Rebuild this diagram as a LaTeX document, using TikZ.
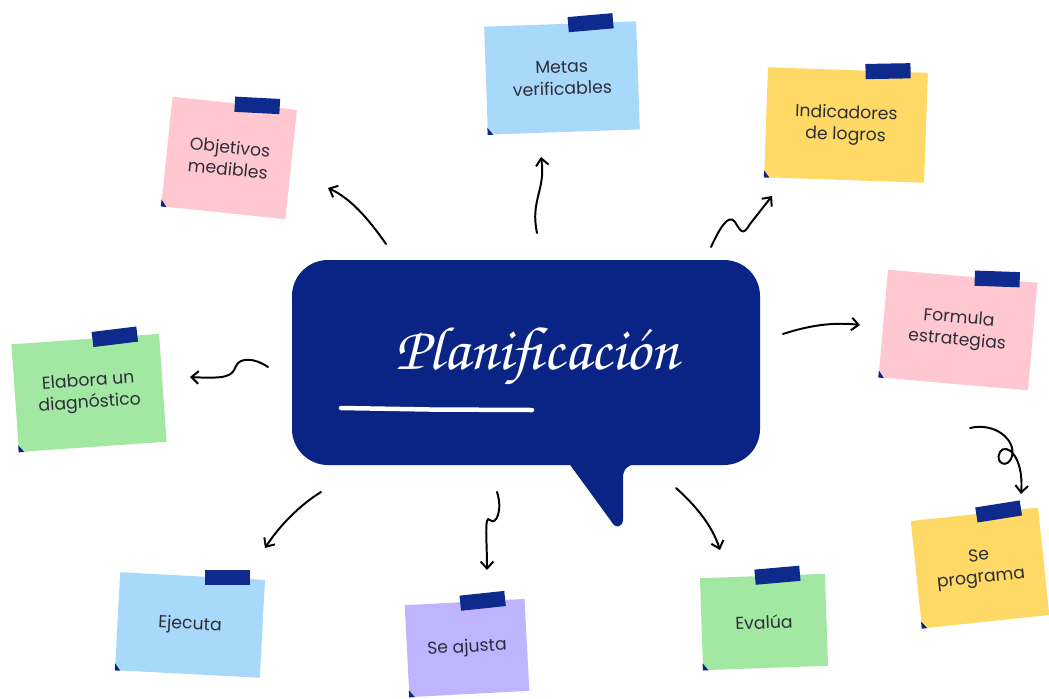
\documentclass[tikz,border=0pt]{standalone}
\usepackage[T1,TU]{fontenc}
\usepackage{fontspec}
\setmainfont{Poppins}
\usetikzlibrary{arrows.meta,calc}
\definecolor{navy}{HTML}{0A2486}
\definecolor{tapec}{HTML}{0D2A8C}
\definecolor{notepink}{HTML}{FFC8D0}
\definecolor{noteblue}{HTML}{A8D8FA}
\definecolor{noteyellow}{HTML}{FFD966}
\definecolor{notegreen}{HTML}{A2E8A2}
\definecolor{notepurple}{HTML}{BEB4FF}
\definecolor{textgray}{HTML}{2E2E3A}
\tikzset{
  note/.style={fill=#1, inner sep=2pt, align=center, text=textgray,
    font=\fontsize{12.3}{15.5}\selectfont},
  tape/.style={fill=tapec, minimum width=1.125cm, minimum height=0.38cm, inner sep=0pt},
  curl/.style={fill=navy},
  conn/.style={draw=black, line width=1.4pt, line cap=round,
    -{Straight Barb[length=5pt,width=9pt,line width=1.4pt]}},
}
\newcommand\stickynote[9]{%
  \node[note=#7, minimum width=#4*0.025cm, minimum height=#5*0.025cm, rotate=#6] (#1) at (#2,#3) {#8};
  \node[tape, rotate=#6+3] (#1tape) at ($(#1.north west)!#9!(#1.north east)$) {};
  \fill[curl] (#1.south west) -- ($(#1.south west)!5pt!(#1.north west)$) -- ($(#1.south west)!4pt!(#1.south east)$) -- cycle;
}
\begin{document}
\begin{tikzpicture}[x=0.025cm, y=-0.025cm]
\useasboundingbox[fill=white] (0,0) rectangle (1049,698);

% central bubble
\node[fill=navy, rounded corners=0.9cm, minimum width=468*0.025cm, minimum height=205*0.025cm, inner sep=0pt] (bub) at (526,362.5) {};
\fill[navy] (568,462) -- (611,521) .. controls (615,529) and (623,528) .. (623,519) -- (623,478) .. controls (623,468) and (628,465) .. (642,462) -- cycle;
\node[text=white, inner sep=0pt] (title) at (537,357) {\resizebox{7.07cm}{!}{\usefont{T1}{pzc}{mb}{it}Planificaci\'on}};
\draw[white, line width=3.2pt, line cap=round] (341,408) -- (430,409.5) -- (532,410);

% notes
\stickynote{obj}{229}{158}{125}{110}{-6}{notepink}{Objetivos\\medibles}{0.68}
\stickynote{metas}{562}{78}{152}{108}{2}{noteblue}{Metas\\verificables}{0.7}
\stickynote{ind}{846}{125}{160}{110}{-2}{noteyellow}{Indicadores\\de logros}{0.75}
\stickynote{form}{958}{330}{150}{108}{-5}{notepink}{Formula\\estrategias}{0.73}
\stickynote{prog}{980}{568}{128}{108}{6}{noteyellow}{Se\\programa}{0.69}
\stickynote{eval}{764}{622}{125}{92}{2}{notegreen}{Evalúa}{0.62}
\stickynote{ajus}{467}{648}{120}{92}{3}{notepurple}{Se ajusta}{0.65}
\stickynote{ejec}{190}{625}{145}{98}{-3}{noteblue}{Ejecuta}{0.74}
\stickynote{diag}{89}{393}{148}{108}{4}{notegreen}{Elabora un\\diagnóstico}{0.7}

% connector end points
\coordinate (a1s) at (386,244); \coordinate (a1e) at (328,188);
\coordinate (a2s) at (537,233); \coordinate (a2e) at (541,157);
\coordinate (a3s) at (711,247); \coordinate (a3e) at (772,196);
\coordinate (a4s) at (783,334); \coordinate (a4e) at (860,325);
\coordinate (a5s) at (970,428); \coordinate (a5e) at (1021,494);
\coordinate (a6s) at (676,488); \coordinate (a6e) at (720,550);
\coordinate (a7s) at (497,492); \coordinate (a7e) at (487,570);
\coordinate (a8s) at (321,492); \coordinate (a8e) at (265,548);
\coordinate (a9s) at (268,367); \coordinate (a9e) at (190,377);

\draw[conn] (a1s) .. controls (368,218) and (350,198) .. (a1e);
\draw[conn] (a2s) .. controls (530,200) and (546,190) .. (a2e);
\draw[conn] (a3s) .. controls (718,232) and (728,212) .. (735,222)
  .. controls (741,232) and (743,236) .. (750,224) -- (a3e);
\draw[conn] (a4s) .. controls (810,325) and (835,322) .. (a4e);
\draw[conn] (a5s) .. controls (995,422) and (1016,440) .. (1012,456)
  .. controls (1008,470) and (994,463) .. (1000,452)
  .. controls (1006,442) and (1024,456) .. (a5e);
\draw[conn] (a6s) .. controls (695,505) and (712,525) .. (a6e);
\draw[conn] (a7s) .. controls (503,510) and (496,526) .. (490,520)
  .. controls (484,514) and (487,540) .. (a7e);
\draw[conn] (a8s) .. controls (300,505) and (280,525) .. (a8e);
\draw[conn] (a9s) .. controls (255,358) and (240,357) .. (236,366)
  .. controls (232,376) and (228,379) .. (a9e);
\end{tikzpicture}
\end{document}
